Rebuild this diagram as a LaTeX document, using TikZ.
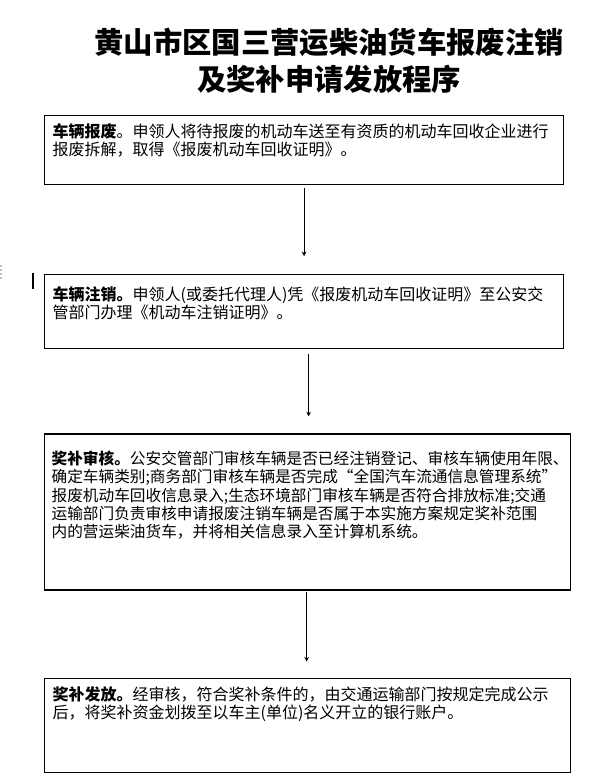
\documentclass[tikz,border=0pt]{standalone}
\usepackage{fontspec}
\setmainfont{Noto Sans CJK SC}
\usetikzlibrary{arrows.meta, positioning}

\begin{document}
\begin{tikzpicture}[
    x=0.75pt, y=-0.75pt,
    stepbox/.style={draw, line width=0.9pt, anchor=north west, inner xsep=6pt, font=\fontsize{12pt}{13.7pt}\selectfont},
    heading/.style={font=\fontsize{22pt}{27.75pt}\selectfont\bfseries, align=center, inner sep=0pt},
    flow/.style={-{Stealth[length=3.5pt, width=3.5pt]}, line width=0.75pt}
]
\useasboundingbox (0,0) rectangle (602,782);

% Title
\node[heading, anchor=north] (title) at (329,28) {黄山市区国三营运柴油货车报废注销\\及奖补申请发放程序};

% Step 1: scrapping
\node[stepbox, inner ysep=6pt] (scrap) at (44,115) {\parbox[t][39.75pt][t]{377.25pt}{\textbf{车辆报废}。申领人将待报废的机动车送至有资质的机动车回收企业进行\\报废拆解，取得《报废机动车回收证明》。}};

% Step 2: deregistration
\node[stepbox, inner ysep=9pt, below=66.75pt of scrap.south west, anchor=north west] (cancel) {\parbox[t][37.5pt][t]{377.25pt}{\textbf{车辆注销。}申领人(或委托代理人)凭《报废机动车回收证明》至公安交\\管部门办理《机动车注销证明》。}};

% Step 3: review
\node[stepbox, inner ysep=12.75pt, inner xsep=5.25pt, font=\fontsize{11.75pt}{13.7pt}\selectfont, below=63pt of cancel.south west, anchor=north west] (review) {\parbox[t][91.5pt][t]{384pt}{\textbf{奖补审核。}公安交管部门审核车辆是否已经注销登记、审核车辆使用年限、\\确定车辆类别;商务部门审核车辆是否完成“全国汽车流通信息管理系统”\\报废机动车回收信息录入;生态环境部门审核车辆是否符合排放标准;交通\\运输部门负责审核申请报废注销车辆是否属于本实施方案规定奖补范围\\内的营运柴油货车，并将相关信息录入至计算机系统。}};

% Step 4: payout
\node[stepbox, inner ysep=6pt, below=65.25pt of review.south west, anchor=north west] (payout) {\parbox[t][58.5pt][t]{382.5pt}{\textbf{奖补发放。}经审核，符合奖补条件的，由交通运输部门按规定完成公示\\后，将奖补资金划拨至以车主(单位)名义开立的银行账户。}};

% Arrows
\draw[flow, shorten <=2.25pt, shorten >=13.5pt] (scrap.south) -- (scrap.south |- cancel.north);
\draw[flow, shorten <=3.75pt, shorten >=12.75pt] ([xshift=3.4pt]cancel.south) -- ([xshift=3.4pt]cancel.south |- review.north);
\draw[flow, shorten <=0.75pt, shorten >=12pt] ([xshift=-0.75pt]review.south) -- ([xshift=-0.75pt]review.south |- payout.north);

% stray marks at the left edge
\draw[line width=1.5pt] (33,273) -- (33,289);
\draw[gray!50, line width=1.5pt, dash pattern=on 1.5pt off 1.5pt] (1,265) -- (1,281);
\end{tikzpicture}
\end{document}
